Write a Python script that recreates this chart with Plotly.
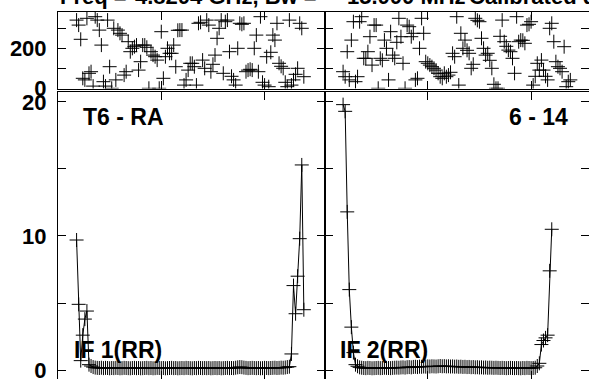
import plotly.graph_objects as go

# ---------------- data ----------------
channels = list(range(9, 120))  # 111 channels, 9..119

phase_if1 = [341, 316, 245, 50, 42, 350, 75, 83, 11, 358,
             341, 291, 216, 33, 11, 341, 108, 0, 300, 42,
             291, 275, 266, 66, 83, 233, 183, 200, 208, 216,
             91, 133, 216, 216, 205, 0, 183, 166, 158, 141,
             0, 283, 50, 158, 200, 175, 175, 216, 108, 290,
             291, 291, 16, 42, 91, 125, 125, 108, 16, 325,
             330, 141, 100, 341, 316, 83, 120, 166, 250, 300,
             341, 75, 333, 341, 183, 60, 42, 16, 200, 325,
             320, 325, 83, 91, 95, 91, 200, 266, 83, 358,
             30, 16, 158, 8, 180, 266, 241, 325, 125, 110,
             100, 30, 8, 341, 16, 42, 70, 100, 325, 300,
             58]

phase_if2 = [83, 58, 183, 42, 241, 333, 33, 58, 333, 358,
             150, 150, 183, 258, 116, 316, 316, 0, 150, 140,
             241, 200, 42, 283, 166, 150, 230, 350, 258, 125,
             0, 316, 308, 258, 275, 42, 50, 200, 350, 275,
             133, 125, 116, 108, 100, 91, 75, 58, 50, 75,
             58, 66, 80, 175, 158, 358, 16, 275, 200, 241,
             190, 175, 100, 120, 350, 340, 333, 250, 200, 166,
             175, 140, 100, 20, 0, 0, 260, 341, 233, 210,
             191, 183, 150, 75, 358, 233, 241, 240, 225, 316,
             320, 333, 16, 60, 125, 91, 141, 91, 60, 42,
             300, 325, 233, 133, 108, 100, 83, 208, 8, 33,
             42]

amp_if1 = [9.7, 4.9, 0.7, 2.6, 3.8, 4.4, 0.4,
           0.30, 0.22, 0.18, 0.16, 0.15, 0.17, 0.14, 0.16, 0.15, 0.13,
           0.15, 0.14, 0.16, 0.15, 0.13, 0.14, 0.16, 0.15, 0.14, 0.13,
           0.15, 0.16, 0.14, 0.15, 0.13, 0.14, 0.15, 0.16, 0.14, 0.15,
           0.13, 0.14, 0.16, 0.15, 0.14, 0.15, 0.13, 0.14, 0.15, 0.16,
           0.14, 0.15, 0.13, 0.14, 0.15, 0.14, 0.16, 0.15, 0.14, 0.13,
           0.15, 0.14, 0.16, 0.15, 0.14, 0.15, 0.14, 0.15, 0.13, 0.14,
           0.15, 0.14, 0.15, 0.13, 0.14, 0.15, 0.16, 0.14, 0.15, 0.14,
           0.17, 0.20, 0.22, 0.21, 0.18, 0.16, 0.14, 0.15, 0.16, 0.15,
           0.14, 0.15, 0.13, 0.14, 0.16, 0.15, 0.14, 0.15, 0.16, 0.17,
           0.15, 0.16, 0.18, 0.17, 0.19, 0.22, 0.25,
           1.2, 6.3, 4.2, 7.0, 9.8, 15.3, 4.5]

amp_if2 = [19.8, 19.3, 11.8, 6.0, 3.2, 1.3, 0.4,
           0.28, 0.20, 0.17, 0.15, 0.14, 0.16, 0.15, 0.13, 0.14, 0.15,
           0.16, 0.14, 0.15, 0.17, 0.16, 0.15, 0.14, 0.16, 0.17, 0.18,
           0.17, 0.19, 0.20, 0.18, 0.21, 0.22, 0.20, 0.23, 0.24, 0.22,
           0.25, 0.24, 0.26, 0.25, 0.27, 0.26, 0.28, 0.27, 0.26, 0.28,
           0.30, 0.28, 0.29, 0.27, 0.28, 0.26, 0.27, 0.25, 0.26, 0.24,
           0.25, 0.23, 0.24, 0.22, 0.23, 0.21, 0.22, 0.20, 0.21, 0.19,
           0.20, 0.18, 0.19, 0.17, 0.18, 0.17, 0.16, 0.17, 0.16, 0.15,
           0.16, 0.15, 0.14, 0.15, 0.16, 0.15, 0.14, 0.15, 0.14, 0.13,
           0.15, 0.14, 0.16, 0.15, 0.14, 0.15, 0.17,
           0.30, 0.5, 1.9, 2.2, 2.4, 2.6, 7.4, 10.5]

phase_ticks = [0, 100, 200, 300]
phase_labels = ["0", "", "200", ""]
amp_ticks = [0, 5, 10, 15, 20]
amp_labels = ["0", "", "10", "", "20"]
chan_ticks = [50, 100]

title_parts = [("Freq =", 58), ("4.8204 GHz, Bw =", 133), ("15.000 MHz", 345), ("Calibrated data", 467)]
panel_labels = [("T6 - RA", 81, 126), ("6 - 14", 507, 126), ("IF 1(RR)", 72, 359), ("IF 2(RR)", 338, 359)]

# ---------------- layout geometry ----------------
W, H = 589, 379
FONT = dict(family="Liberation Sans, Arial, sans-serif", size=23, color="black", weight="bold")
TITLEFONT = dict(family="Liberation Sans, Arial, sans-serif", size=22, color="black", weight="bold")
TICKFONT = dict(family="Liberation Sans, Arial, sans-serif", size=22, color="black", weight="bold")

def px_x(p):
    return p / W

def px_y(p):
    return 1 - p / H

xl = [px_x(58), px_x(324.5)]
xr = [px_x(324.5), 1.0]
y_amp = [0.0, px_y(91.5)]
y_ph = [px_y(88.5), px_y(11.7)]

marker = dict(symbol="cross-thin", size=10, color="black", line=dict(width=1, color="black"))

fig = go.Figure()
fig.add_trace(go.Scatter(x=channels, y=amp_if1, mode="lines+markers", line=dict(color="black", width=1),
                         marker=marker, xaxis="x", yaxis="y", showlegend=False, hoverinfo="skip"))
fig.add_trace(go.Scatter(x=channels[:len(amp_if2)], y=amp_if2, mode="lines+markers", line=dict(color="black", width=1),
                         marker=marker, xaxis="x2", yaxis="y2", showlegend=False, hoverinfo="skip"))
fig.add_trace(go.Scatter(x=channels, y=phase_if1, mode="markers", marker=marker,
                         xaxis="x3", yaxis="y3", showlegend=False, hoverinfo="skip"))
fig.add_trace(go.Scatter(x=channels, y=phase_if2, mode="markers", marker=marker,
                         xaxis="x4", yaxis="y4", showlegend=False, hoverinfo="skip"))

common = dict(showline=True, linecolor="black", linewidth=1, mirror="ticks", ticks="inside",
              ticklen=8, tickcolor="black", tickwidth=1, showgrid=False, zeroline=False,
              tickfont=TICKFONT, automargin=False, ticklabeloverflow="allow")

xr_max = 129 * (264.5 / 266.5)
fig.update_layout(
    width=W, height=H, autosize=False, margin=dict(l=0, r=0, t=0, b=0, pad=0),
    paper_bgcolor="white", plot_bgcolor="white",
    xaxis=dict(domain=xl, anchor="y", range=[0, 129], tickvals=chan_ticks, showticklabels=False, **common),
    xaxis2=dict(domain=xr, anchor="y2", range=[0, xr_max], tickvals=chan_ticks, showticklabels=False, **common),
    xaxis3=dict(domain=xl, anchor="y3", range=[0, 129], tickvals=chan_ticks, showticklabels=False, **common),
    xaxis4=dict(domain=xr, anchor="y4", range=[0, xr_max], tickvals=chan_ticks, showticklabels=False, **common),
    yaxis=dict(domain=y_amp, anchor="x", range=[-0.67, 20.78], tickvals=amp_ticks, ticktext=amp_labels,
               ticklabelstandoff=6, **common),
    yaxis2=dict(domain=y_amp, anchor="x2", range=[-0.67, 20.78], tickvals=amp_ticks, showticklabels=False, **common),
    yaxis3=dict(domain=y_ph, anchor="x3", range=[-1, 383], tickvals=phase_ticks, ticktext=phase_labels,
                ticklabelstandoff=6, **common),
    yaxis4=dict(domain=y_ph, anchor="x4", range=[-1, 383], tickvals=phase_ticks, showticklabels=False, **common),
)

for text, x0 in title_parts:
    fig.add_annotation(text=text, x=px_x(x0), y=px_y(5.5 + 5.6), xref="paper", yref="paper",
                       xanchor="left", yanchor="bottom", showarrow=False, font=TITLEFONT)

for text, x0, base in panel_labels:
    fig.add_annotation(text=text, x=px_x(x0), y=px_y(base + 5.9), xref="paper", yref="paper",
                       xanchor="left", yanchor="bottom", showarrow=False, font=FONT)

fig.write_html("out.html",
               config={"displayModeBar": False, "responsive": False},
               post_script="document.body.style.margin='0px';document.body.style.overflow='hidden';")
